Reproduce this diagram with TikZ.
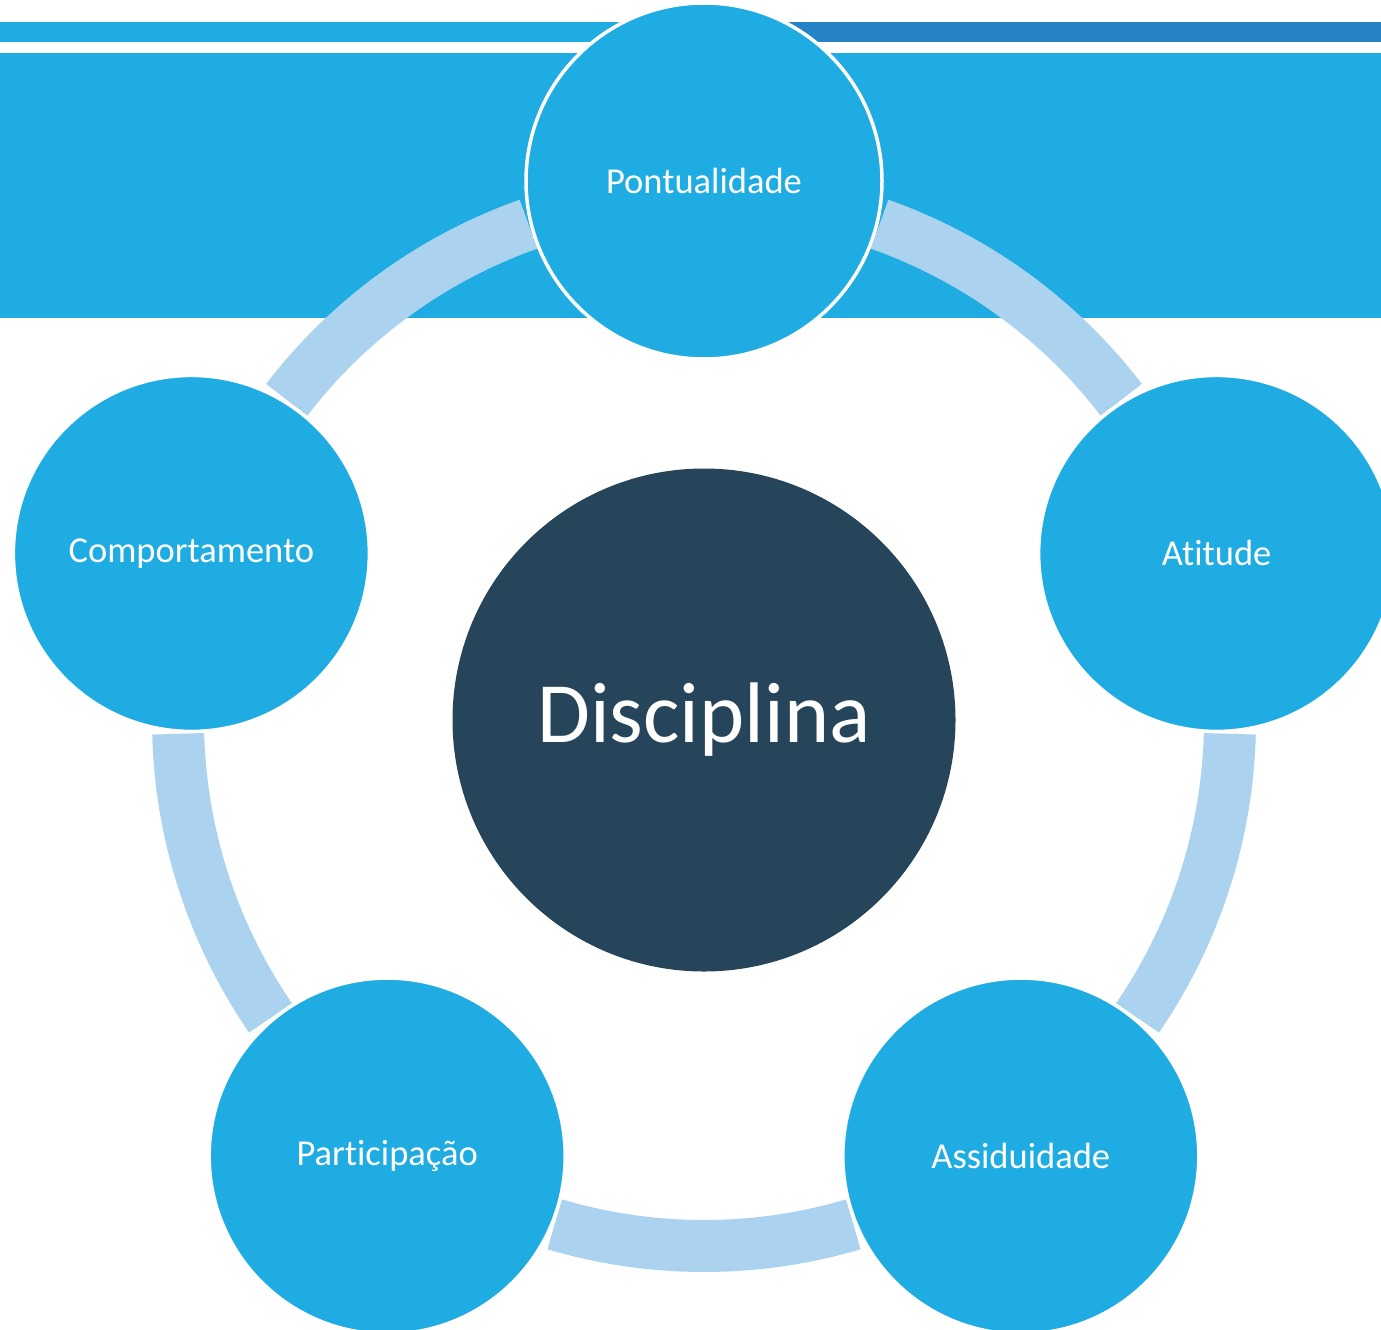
\documentclass[tikz,border=0pt]{standalone}
\usepackage{fontspec}
\setmainfont{Carlito}[Ligatures=NoCommon]
\usetikzlibrary{calc}
\definecolor{mainblue}{HTML}{1EACE2}
\definecolor{darkblue}{HTML}{2683C6}
\definecolor{ringblue}{HTML}{ABD3EF}
\definecolor{slate}{HTML}{27455A}
\begin{document}
\begin{tikzpicture}[x=1pt,y=-1pt,
  outer/.style={circle, fill=mainblue, draw=white, line width=3.5pt, minimum size=356pt, inner sep=0pt,
    text=white, font=\fontsize{36.5}{44}\selectfont},
  core/.style={circle, fill=slate, minimum size=503pt, inner sep=0pt, text=white,
    font=\fontsize{86}{100}\selectfont},
  ringseg/.style={draw=ringblue, line width=52pt}]
\useasboundingbox (0,0) rectangle (1381,1330);
\clip (0,0) rectangle (1381,1330);
% header bars
\fill[mainblue] (0,22) rectangle (704,42);
\fill[darkblue] (704,22) rectangle (1381,42);
\fill[mainblue] (0,53) rectangle (1381,318);
% center
\node[core] (disc) at (704,720) {Disciplina};
% ring segments
\foreach \a/\b in {-70.5/-37.5, 1.5/34.5, 73.5/106.5, 145.5/178.5, 217.5/250.5}{
  \draw[ringseg] (disc.center) ++(\a:526) arc[start angle=\a, end angle=\b, radius=526];
}
% outer circles
\node[outer] (pont) at ($(disc.center)+(-90:539)$) {Pontualidade};
\node[outer] (atit) at ($(disc.center)+(-18:539)$) {Atitude};
\node[outer] (assi) at ($(disc.center)+(54:539)$) {Assiduidade};
\node[outer] (part) at ($(disc.center)+(126:539)$) {Participação};
\node[outer] (comp) at ($(disc.center)+(198:539)$) {Comportamento};
\end{tikzpicture}
\end{document}
